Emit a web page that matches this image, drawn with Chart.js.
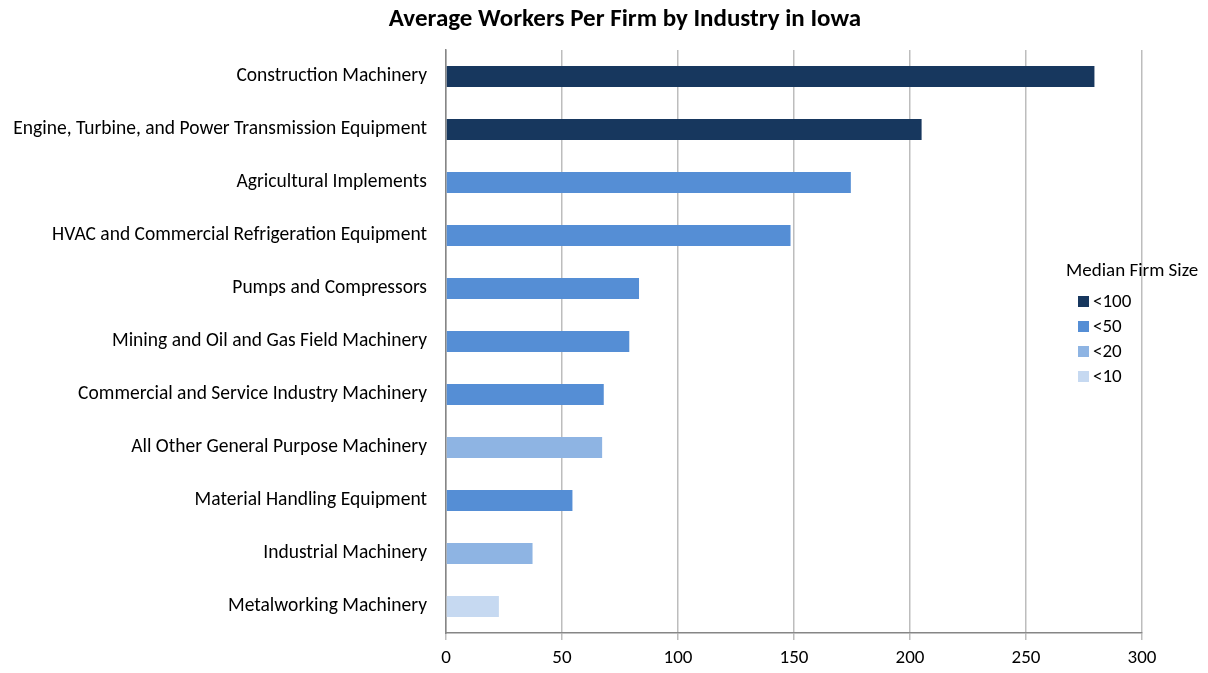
<!DOCTYPE html>
<html>
    <head>
        <title>Average Workers Per Firm by Industry in Iowa</title>
        <style>
            body { margin: 0; background: #fff; }
            #wrap { position: relative; width: 1208px; height: 673px; }
        </style>
    </head>
    <body>
        <div id="wrap"><canvas id="firmCanvas"></canvas></div>

        <script src="https://cdn.jsdelivr.net/npm/chart.js@4.4.1/dist/chart.umd.min.js"></script>
        <script>
        // data
        var industries = [
            "Construction Machinery",
            "Engine, Turbine, and Power Transmission Equipment",
            "Agricultural Implements",
            "HVAC and Commercial Refrigeration Equipment",
            "Pumps and Compressors",
            "Mining and Oil and Gas Field Machinery",
            "Commercial and Service Industry Machinery",
            "All Other General Purpose Machinery",
            "Material Handling Equipment",
            "Industrial Machinery",
            "Metalworking Machinery"
        ];
        var workersPerFirm = [279.5, 205, 174.5, 148.5, 83.2, 79, 68, 67.3, 54.5, 37.3, 22.8];
        var medianFirmSize = ["<100", "<100", "<50", "<50", "<50", "<50", "<50", "<20", "<50", "<20", "<10"];
        var sizeGroups = ["<100", "<50", "<20", "<10"];
        var groupColors = ["#17375E", "#558ED5", "#8EB4E3", "#C6D9F1"];
        var xTicks = [0, 50, 100, 150, 200, 250, 300];

        var FONT = "Carlito, Calibri, Lato, sans-serif";

        var datasets = sizeGroups.map(function(g, k) {
            return {
                label: g,
                data: workersPerFirm.map(function(v, i) { return medianFirmSize[i] === g ? v : null; }),
                backgroundColor: groupColors[k],
                borderWidth: 0,
                categoryPercentage: 1,
                barPercentage: 0.4
            };
        });

        // title and legend are drawn by hand so they can sit where Excel put them
        var decor = {
            id: "decor",
            afterDraw: function(chart) {
                var ctx = chart.ctx;
                ctx.save();
                ctx.fillStyle = "#000";
                ctx.textBaseline = "middle";
                ctx.textAlign = "center";
                ctx.font = "bold 25px " + FONT;
                ctx.fillText("Average Workers Per Firm by Industry in Iowa", 625, 20);

                ctx.textAlign = "left";
                ctx.font = "19px " + FONT;
                ctx.fillText("Median Firm Size", 1066, 271);
                chart.data.datasets.forEach(function(ds, i) {
                    var y = 301 + i * 25;
                    ctx.fillStyle = ds.backgroundColor;
                    ctx.fillRect(1078, y - 5, 11, 11);
                    ctx.fillStyle = "#000";
                    ctx.fillText(ds.label, 1093, y + 1);
                });
                ctx.restore();
            }
        };

        var ctx = document.getElementById("firmCanvas").getContext("2d");
        new Chart(ctx, {
            type: "bar",
            data: { labels: industries, datasets: datasets },
            plugins: [decor],
            options: {
                indexAxis: "y",
                responsive: true,
                maintainAspectRatio: false,
                animation: false,
                layout: { padding: { top: 50, right: 66, bottom: 0, left: 0 } },
                plugins: {
                    legend: { display: false },
                    title: { display: false },
                    tooltip: { enabled: false }
                },
                scales: {
                    x: {
                        stacked: true,
                        min: 0,
                        max: 300,
                        afterBuildTicks: function(axis) {
                            axis.ticks = xTicks.map(function(v) { return { value: v }; });
                        },
                        afterFit: function(axis) { axis.height = 40; },
                        grid: { color: "#BDBDBD", lineWidth: 1.5, tickLength: 7, drawTicks: true },
                        border: { color: "#868686", width: 1.5 },
                        ticks: { color: "#000", padding: 7, font: { family: FONT, size: 19 } }
                    },
                    y: {
                        stacked: true,
                        afterFit: function(axis) { axis.width = 446; },
                        grid: { display: false, drawTicks: false },
                        border: { color: "#868686", width: 1.5 },
                        ticks: { color: "#000", padding: 19, autoSkip: false, font: { family: FONT, size: 19.5 } }
                    }
                }
            }
        });
        </script>
    </body>
</html>
